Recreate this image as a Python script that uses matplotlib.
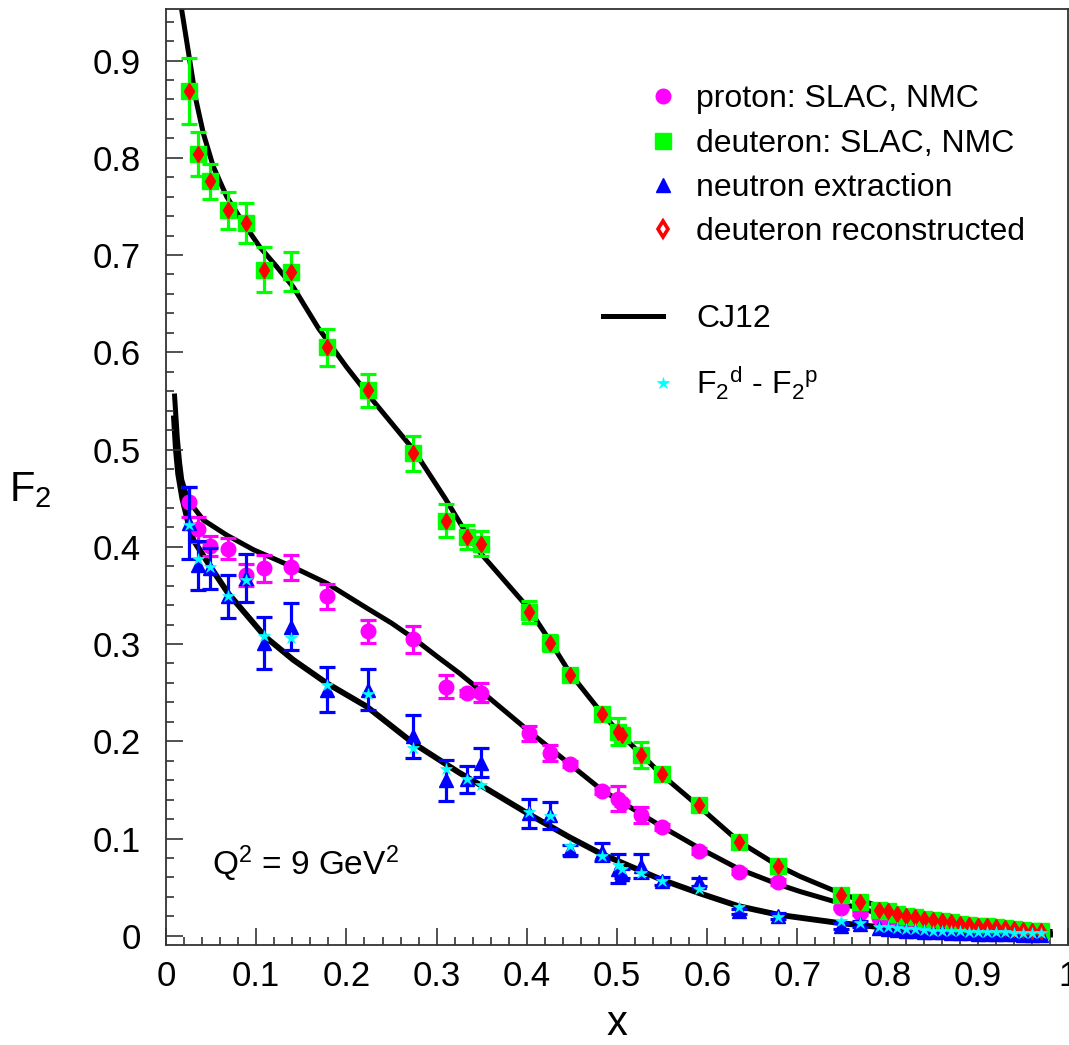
import matplotlib

matplotlib.use("Agg")

import matplotlib.pyplot as plt
from matplotlib.lines import Line2D
from matplotlib.ticker import FuncFormatter, MultipleLocator

plt.rcParams.update(
    {
        "font.family": "Liberation Sans",
        "mathtext.fontset": "custom",
        "mathtext.rm": "Liberation Sans",
        "mathtext.it": "Liberation Sans:italic",
        "mathtext.bf": "Liberation Sans:bold",
    }
)

# measured points (SLAC, NMC), shared x
x_data = [0.025, 0.035, 0.049, 0.069, 0.089, 0.109, 0.139, 0.179, 0.224, 0.274,
          0.310, 0.334, 0.349, 0.402, 0.426, 0.448, 0.483, 0.501, 0.506, 0.527,
          0.550, 0.591, 0.635, 0.678, 0.748, 0.769]

f2_deut = [0.869, 0.804, 0.776, 0.746, 0.733, 0.685, 0.683, 0.605, 0.561, 0.496,
           0.427, 0.410, 0.403, 0.333, 0.301, 0.268, 0.228, 0.210, 0.206, 0.186,
           0.166, 0.134, 0.096, 0.072, 0.042, 0.035]
err_deut = [0.034, 0.023, 0.018, 0.019, 0.021, 0.023, 0.020, 0.019, 0.017, 0.018,
            0.017, 0.012, 0.013, 0.011, 0.008, 0.005, 0.004, 0.014, 0.004, 0.013,
            0.004, 0.004, 0.004, 0.004, 0.003, 0.003]

f2_prot = [0.446, 0.418, 0.401, 0.398, 0.371, 0.378, 0.379, 0.349, 0.313, 0.305,
           0.256, 0.250, 0.250, 0.208, 0.188, 0.177, 0.149, 0.141, 0.136, 0.124,
           0.112, 0.087, 0.066, 0.055, 0.029, 0.023]
err_prot = [0.015, 0.013, 0.010, 0.011, 0.011, 0.014, 0.013, 0.013, 0.012, 0.014,
            0.012, 0.003, 0.010, 0.008, 0.008, 0.003, 0.003, 0.013, 0.003, 0.008,
            0.003, 0.003, 0.003, 0.003, 0.002, 0.002]

f2_neut = [0.424, 0.381, 0.378, 0.349, 0.368, 0.301, 0.318, 0.253, 0.253, 0.205,
           0.160, 0.161, 0.178, 0.126, 0.124, 0.088, 0.086, 0.069, 0.064, 0.072,
           0.056, 0.055, 0.025, 0.020, 0.010, 0.012]
err_neut = [0.037, 0.025, 0.021, 0.022, 0.025, 0.027, 0.024, 0.023, 0.021, 0.022,
            0.021, 0.014, 0.015, 0.015, 0.014, 0.005, 0.009, 0.015, 0.005, 0.0125,
            0.004, 0.004, 0.003, 0.003, 0.003, 0.003]

f2_diff = [0.422, 0.387, 0.379, 0.349, 0.366, 0.308, 0.306, 0.258, 0.249, 0.193,
           0.171, 0.161, 0.155, 0.127, 0.123, 0.092, 0.082, 0.073, 0.069, 0.065,
           0.056, 0.048, 0.030, 0.019, 0.015, 0.013]

# reconstructed high-x grid
x_hi = [0.79, 0.80, 0.81, 0.82, 0.83, 0.84, 0.85, 0.86, 0.87, 0.88,
        0.89, 0.90, 0.91, 0.92, 0.93, 0.94, 0.95, 0.96, 0.97]
deut_hi = [0.0267, 0.0250, 0.0226, 0.0206, 0.0192, 0.0172, 0.0157, 0.0147, 0.0137, 0.0123,
           0.0113, 0.0103, 0.0096, 0.0085, 0.0079, 0.0072, 0.0062, 0.0054, 0.0044]
prot_hi = [0.0180, 0.0165, 0.0150, 0.0137, 0.0125, 0.0113, 0.0103, 0.0094, 0.0086, 0.0077,
           0.0070, 0.0063, 0.0057, 0.0050, 0.0045, 0.0040, 0.0035, 0.0030, 0.0026]
neut_hi = [0.0075, 0.0068, 0.0060, 0.0054, 0.0048, 0.0043, 0.0039, 0.0035, 0.0031, 0.0028,
           0.0025, 0.0022, 0.0020, 0.0018, 0.0016, 0.0014, 0.0012, 0.0010, 0.0009]
diff_hi = [0.0095, 0.0087, 0.0078, 0.0071, 0.0065, 0.0059, 0.0054, 0.0051, 0.0048, 0.0044,
           0.0042, 0.0040, 0.0038, 0.0036, 0.0034, 0.0032, 0.0030, 0.0028, 0.0027]

# CJ12 curves
cj_x_d = [0.016, 0.0174, 0.0258, 0.0333, 0.0414, 0.0524, 0.0673, 0.0857, 0.1042, 0.1227,
          0.1411, 0.1688, 0.200, 0.2262, 0.2742, 0.310, 0.334, 0.350, 0.4017, 0.4257,
          0.4479, 0.483, 0.5052, 0.5274, 0.5496, 0.590, 0.635, 0.6777, 0.7029, 0.748,
          0.770, 0.790, 0.820, 0.85, 0.90, 0.95, 0.98]
cj_d = [0.975, 0.952, 0.903, 0.859, 0.825, 0.791, 0.760, 0.733, 0.708, 0.688,
        0.667, 0.625, 0.585, 0.554, 0.500, 0.449, 0.412, 0.392, 0.337, 0.303,
        0.270, 0.229, 0.206, 0.186, 0.1655, 0.1336, 0.097, 0.0725, 0.061, 0.0435,
        0.0365, 0.0305, 0.0235, 0.0175, 0.011, 0.0065, 0.0045]

cj_x_p = [0.0095, 0.0125, 0.015, 0.0174, 0.022, 0.0285, 0.0414, 0.0673, 0.0968, 0.1411,
          0.1782, 0.2225, 0.250, 0.2742, 0.300, 0.3259, 0.3481, 0.4035, 0.4442, 0.483,
          0.5496, 0.5912, 0.6353, 0.680, 0.7029, 0.7472, 0.7879, 0.85, 0.90, 0.95, 0.98]
cj_p = [0.555, 0.512, 0.487, 0.469, 0.455, 0.443, 0.4275, 0.412, 0.397, 0.379,
        0.3625, 0.337, 0.3215, 0.306, 0.2875, 0.2695, 0.2525, 0.2095, 0.179, 0.150,
        0.1123, 0.0901, 0.0686, 0.0525, 0.0455, 0.0335, 0.0235, 0.0125, 0.0075, 0.004,
        0.0025]

cj_x_n = [0.0089, 0.011, 0.0135, 0.018, 0.024, 0.0303, 0.0488, 0.069, 0.1098, 0.1411,
          0.1782, 0.2225, 0.2742, 0.3259, 0.3481, 0.4024, 0.4479, 0.483, 0.5496, 0.5909,
          0.6345, 0.6788, 0.7472, 0.7879, 0.85, 0.90, 0.95, 0.98]
cj_n = [0.532, 0.500, 0.475, 0.450, 0.427, 0.407, 0.380, 0.352, 0.3076, 0.2837,
        0.2597, 0.2357, 0.198, 0.1672, 0.1552, 0.125, 0.101, 0.084, 0.0576, 0.0439,
        0.0305, 0.0216, 0.013, 0.0092, 0.0055, 0.0033, 0.0018, 0.0012]

MAGENTA = "#ff00ff"
GREEN = "#00ff00"
BLUE = "#0000ff"
RED = "#ff0000"
CYAN = "#00ffff"

fig = plt.figure(figsize=(10.69, 10.45), dpi=100)
ax = fig.add_axes([0.1553, 0.0957, 0.8438, 0.8957])

# curves
curve_lw = 3.6
h_cj, = ax.plot(cj_x_d, cj_d, color="black", lw=curve_lw, zorder=1)
ax.plot(cj_x_p, cj_p, color="black", lw=curve_lw, zorder=1)
ax.plot(cj_x_n, cj_n, color="black", lw=curve_lw + 0.6, zorder=1)

eb = dict(ls="none", elinewidth=2.3, capsize=5.5, capthick=2.3)

h_p = ax.errorbar(x_data, f2_prot, yerr=err_prot, fmt="o", ms=10.5, color=MAGENTA,
                  mec=MAGENTA, zorder=2, **eb)
ax.plot(x_hi, prot_hi, "o", ms=10.5, color=MAGENTA, zorder=2)

h_d = ax.errorbar(x_data, f2_deut, yerr=err_deut, fmt="s", ms=11, color=GREEN,
                  mec=GREEN, zorder=3, **eb)
ax.plot(x_hi, deut_hi, "s", ms=11, color=GREEN, zorder=3)

h_n = ax.errorbar(x_data, f2_neut, yerr=err_neut, fmt="^", ms=9.5, color=BLUE,
                  mec=BLUE, zorder=4, **eb)
ax.plot(x_hi, neut_hi, "^", ms=9.5, color=BLUE, zorder=4)

ax.plot(x_data + x_hi, f2_deut + deut_hi, "d", ms=7.8, color=RED, mec=RED, zorder=5)
h_s, = ax.plot(x_data + x_hi, f2_diff + diff_hi, "*", ms=9, color=CYAN, mec=CYAN,
               mew=0.5, zorder=6)

# axes
ax.set_xlim(0, 1)
ax.set_ylim(-0.0095, 0.953)
ax.xaxis.set_major_locator(MultipleLocator(0.1))
ax.xaxis.set_minor_locator(MultipleLocator(0.02))
ax.yaxis.set_major_locator(MultipleLocator(0.1))
ax.yaxis.set_minor_locator(MultipleLocator(0.02))
fmt = FuncFormatter(lambda v, _: "0" if abs(v) < 1e-9 else f"{v:g}")
ax.xaxis.set_major_formatter(fmt)
ax.yaxis.set_major_formatter(fmt)
ax.tick_params(which="both", direction="in", top=False, right=False,
               width=1.2, color="#333333")
ax.tick_params(which="major", length=12.5, labelsize=25)
ax.tick_params(axis="x", which="major", pad=11)
ax.tick_params(axis="y", which="major", pad=18)
ax.tick_params(which="minor", length=6)
for sp in ax.spines.values():
    sp.set_linewidth(1.3)
    sp.set_color("#333333")

ax.set_xlabel("x", fontsize=30)
ax.xaxis.set_label_coords(0.5, -0.0962)
ax.xaxis.label.set_va("baseline")
ax.set_ylabel(r"$\mathregular{F_2}$", fontsize=30, rotation=0)
ax.yaxis.set_label_coords(-0.151, 0.486)
ax.yaxis.label.set_va("center")
ax.yaxis.label.set_ha("center")

ax.text(0.051, 0.074, r"$\mathregular{Q^2}$ = 9 GeV$\mathregular{^2}$", fontsize=24,
        va="center", ha="left")

# legends
leg_kw = dict(frameon=False, fontsize=23, borderpad=0, borderaxespad=0,
              numpoints=1, loc="upper left")
h_r_key = Line2D([], [], ls="none", marker="d", ms=8.5, mfc="white", mec=RED, mew=2.6)
leg1 = ax.legend([h_p[0], h_d[0], h_n[0], h_r_key],
                 ["proton: SLAC, NMC", "deuteron: SLAC, NMC", "neutron extraction",
                  "deuteron reconstructed"],
                 bbox_to_anchor=(0.5333, 0.9195), handlelength=1.0, handletextpad=0.53,
                 labelspacing=0.45, **leg_kw)
ax.add_artist(leg1)
leg2 = ax.legend([h_cj], ["CJ12"], bbox_to_anchor=(0.4845, 0.6848),
                 handlelength=1.88, handletextpad=1.03, **leg_kw)
ax.add_artist(leg2)
ax.legend([h_s], [r"F$_2{}^{\mathregular{d}}$ - F$_2{}^{\mathregular{p}}$"],
          bbox_to_anchor=(0.5333, 0.6202), handlelength=1.0, handletextpad=0.53, **leg_kw)

fig.savefig("out.png", dpi=100)
